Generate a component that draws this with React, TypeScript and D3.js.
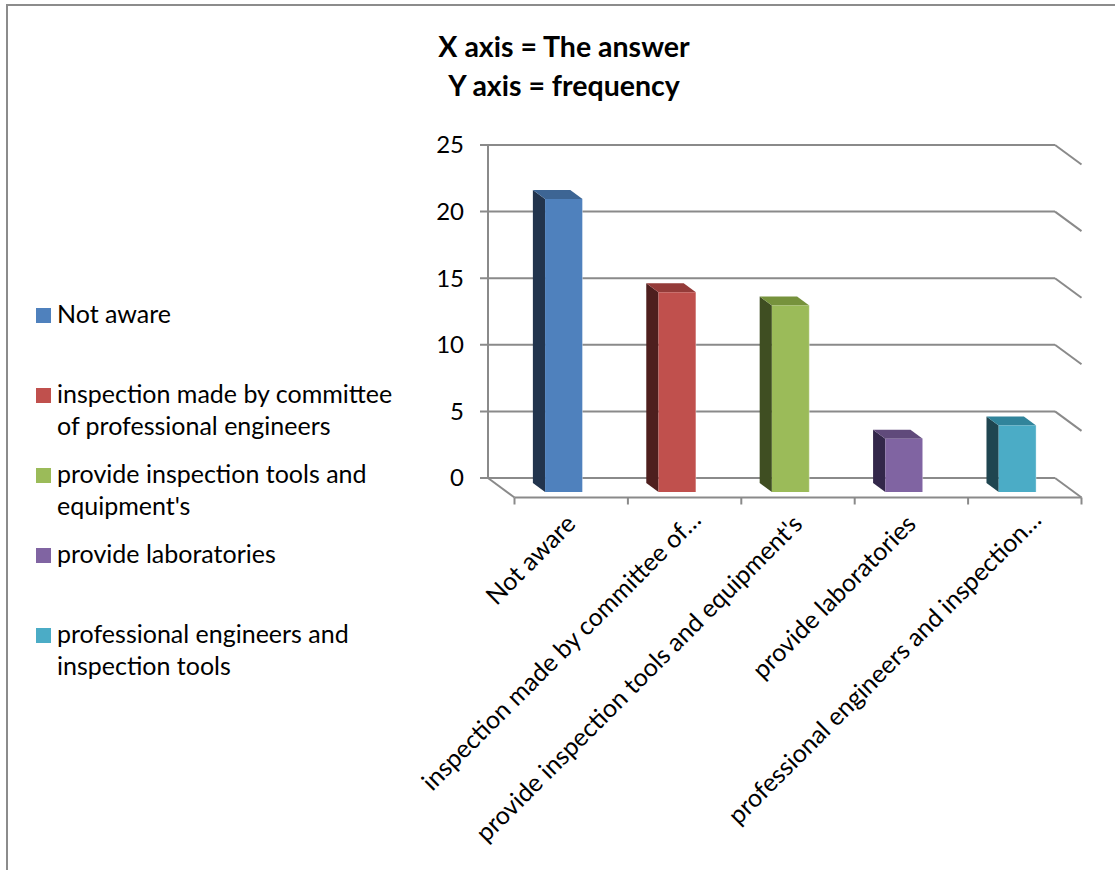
import React from "react";
import * as d3 from "d3";

const categories = [
  "Not aware",
  "inspection made by committee of professional engineers",
  "provide inspection tools and equipment's",
  "provide laboratories",
  "professional engineers and inspection tools",
];
const values = [22, 15, 14, 4, 5];
const axisLabels = [
  "Not aware",
  "inspection made by committee of…",
  "provide inspection tools and equipment's",
  "provide laboratories",
  "professional engineers and inspection…",
];
const legendLines = [
  ["Not aware"],
  ["inspection made by committee", "of professional engineers"],
  ["provide inspection tools and", "equipment's"],
  ["provide laboratories"],
  ["professional engineers and", "inspection tools"],
];
const yTicks = [0, 5, 10, 15, 20, 25];
const titleLines = ["X axis = The answer", "Y axis = frequency"];

const frontColors = ["#4F81BD", "#C0504D", "#9BBB59", "#8064A2", "#4BACC6"];
const sideColors = ["#22344D", "#4E1F1E", "#3F4E22", "#33274A", "#1F4550"];
const topColors = ["#3D6594", "#943B39", "#76923C", "#604A7B", "#31849B"];

const FONT = "Lato, 'Open Sans', sans-serif";
const GRID = "#8a8a8a";

export default function App() {
  const W = 1115;
  const H = 870;
  const DX = 26.5;
  const DY = 19.5;
  const x = d3.scaleBand<string>().domain(categories).range([488, 1055]);
  const y = d3.scaleLinear().domain([0, 25]).range([478, 145]);
  const P = (px: number, py: number, d: number): [number, number] => [px + d * DX, py + d * DY];
  const poly = (pts: [number, number][]) => pts.map((p) => p.join(",")).join(" ");

  const dBack = 0.26;
  const dFront = 0.72;
  const barFrac = 0.33;

  const floorY = y(0);

  return (
    <svg
      width={W}
      height={H}
      style={{ position: "absolute", left: 0, top: 0, background: "#fff" }}
      fontFamily={FONT}
    >
      <rect x={7} y={5} width={1300} height={1000} fill="#fff" stroke="#8c8c8c" strokeWidth={2} />

      {titleLines.map((t, i) => (
        <text key={t} x={564} y={57 + i * 39} textAnchor="middle" fontSize={28.5} fontWeight="bold" fill="#000">
          {t}
        </text>
      ))}

      {yTicks.map((t) => (
        <g key={t}>
          <line x1={480} x2={1055} y1={y(t)} y2={y(t)} stroke={GRID} strokeWidth={2} />
          <line x1={1055} y1={y(t)} x2={1055 + DX} y2={y(t) + DY} stroke={GRID} strokeWidth={2} />
          <text x={464} y={y(t)} dy="0.35em" textAnchor="end" fontSize={24} fill="#000">
            {t}
          </text>
        </g>
      ))}
      <line x1={488} x2={488} y1={y(25)} y2={floorY} stroke={GRID} strokeWidth={2} />
      <line x1={488} y1={floorY} x2={488 + DX} y2={floorY + DY} stroke={GRID} strokeWidth={2} />
      <line x1={488 + DX} x2={1055 + DX} y1={floorY + DY} y2={floorY + DY} stroke={GRID} strokeWidth={2} />
      {categories.map((c, i) => (
        <line
          key={"tk" + i}
          x1={(x(c) as number) + DX}
          x2={(x(c) as number) + DX}
          y1={floorY + DY}
          y2={floorY + DY + 7}
          stroke={GRID}
          strokeWidth={2}
        />
      ))}
      <line x1={1055 + DX} x2={1055 + DX} y1={floorY + DY} y2={floorY + DY + 7} stroke={GRID} strokeWidth={2} />

      {categories.map((c, i) => {
        const bw = x.bandwidth() * barFrac;
        const cx = (x(c) as number) + x.bandwidth() / 2;
        const l = cx - bw / 2;
        const r = cx + bw / 2;
        const top = y(values[i]);
        const fTL = P(l, top, dFront);
        const fTR = P(r, top, dFront);
        const fBL = P(l, floorY, dFront);
        const fBR = P(r, floorY, dFront);
        const bTL = P(l, top, dBack);
        const bTR = P(r, top, dBack);
        const bBL = P(l, floorY, dBack);
        return (
          <g key={"bar" + i}>
            <polygon points={poly([fTL, fBL, bBL, bTL])} fill={sideColors[i]} />
            <polygon points={poly([fTL, fTR, bTR, bTL])} fill={topColors[i]} />
            <polygon points={poly([fTL, fTR, fBR, fBL])} fill={frontColors[i]} />
            <line x1={fTR[0]} y1={fTR[1]} x2={fBR[0]} y2={fBR[1]} stroke="#ffffff" strokeOpacity={0.35} strokeWidth={1} />
          </g>
        );
      })}

      {categories.map((c, i) => {
        const cx = (x(c) as number) + x.bandwidth() / 2 + DX;
        const trunc = axisLabels[i].endsWith("…");
        const ax = cx + (trunc ? 18 : 6);
        const ay = floorY + DY + (trunc ? 24 : 28);
        return (
          <text
            key={"xl" + i}
            transform={`translate(${ax},${ay}) rotate(-45)`}
            textAnchor="end"
            fontSize={25}
            fill="#000"
          >
            {axisLabels[i]}
          </text>
        );
      })}

      {legendLines.map((lines, i) => {
        const base = 323 + i * 80;
        return (
          <g key={"lg" + i}>
            <rect x={36} y={base - 15} width={15} height={15} fill={frontColors[i]} />
            {lines.map((ln, j) => (
              <text key={j} x={57} y={base + j * 32} fontSize={25} fill="#000">
                {ln}
              </text>
            ))}
          </g>
        );
      })}
    </svg>
  );
}
